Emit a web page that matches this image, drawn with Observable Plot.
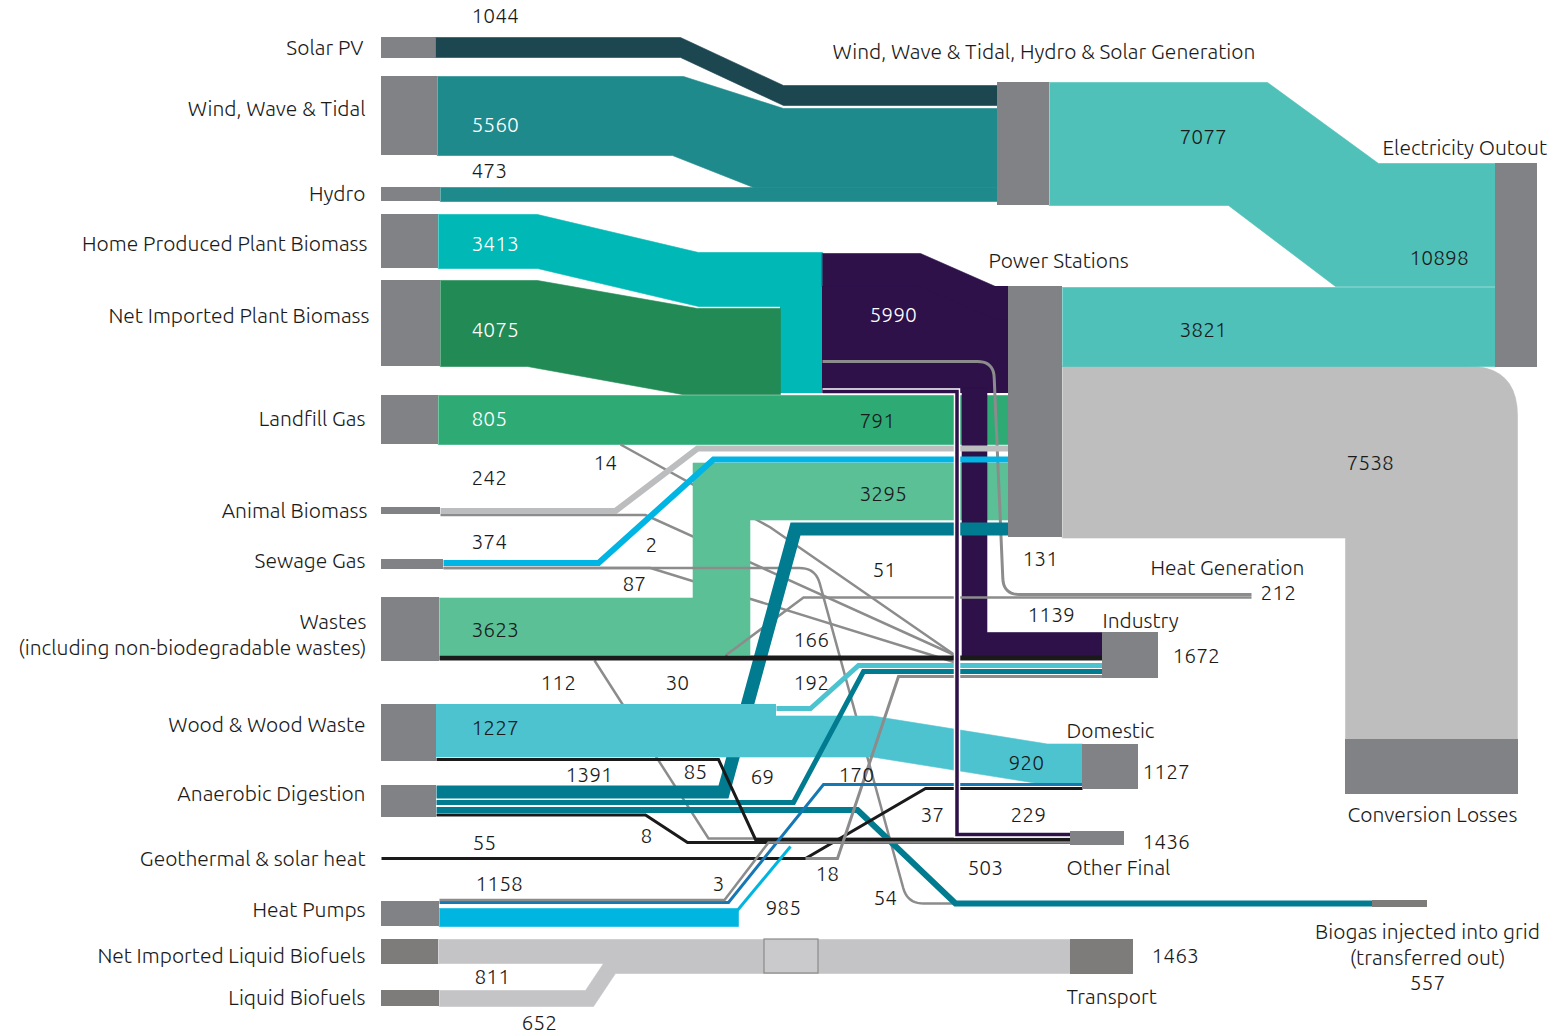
<!DOCTYPE html>
<html><head><meta charset="utf-8">
<script src="https://cdn.jsdelivr.net/npm/d3@7"></script>
<script src="https://cdn.jsdelivr.net/npm/@observablehq/plot@0.6"></script>
<style>
html,body{margin:0;padding:0;background:#fff;}
#chart svg{display:block;}
</style></head><body><div id="chart"></div>
<script>
// ---------------- DATA ----------------
const leftNodes = ["Solar PV","Wind, Wave & Tidal","Hydro","Home Produced Plant Biomass","Net Imported Plant Biomass","Landfill Gas","Animal Biomass","Sewage Gas","Wastes\n(including non-biodegradable wastes)","Wood & Wood Waste","Anaerobic Digestion","Geothermal & solar heat","Heat Pumps","Net Imported Liquid Biofuels","Liquid Biofuels"];
const leftTotals = [1044,5560,473,3413,4075,805,242,374,3623,1227,1391,55,1158,811,652];
const rightNodes = ["Wind, Wave & Tidal, Hydro & Solar Generation","Power Stations","Electricity Outout","Conversion Losses","Heat Generation","Industry","Domestic","Other Final","Transport","Biogas injected into grid\n(transferred out)"];
const rightTotals = [null,null,10898,null,212,1672,1127,1436,1463,557];
const flowIds    = ["solarGen","windGen","hydroGen","genElec","psElec","psLoss","homeBio","impBio","bioPS","bioInd","bioOther","bioHeat","landPS","landOther","animalPS","animalInd","sewagePS","sewageInd","sewageBiogas","wastesPS","wastesInd","wastesOther","wastesHeat","woodDom","woodInd","woodOther","adPS","adInd","adBiogas","adOther","geoDom","geoInd","hpDom","hpOther","hp3","liqImp","liq"];
const flowValues = [1044,5560,473,7077,3821,7538,3413,4075,5990,1139,229,131,791,14,170,72,231,87,54,3295,166,112,51,920,192,85,811,69,503,8,37,18,170,985,3,811,652];
const flowLabelled = ["genElec","psElec","psLoss","bioPS","bioInd","bioOther","bioHeat","landPS","landOther","sewageInd","sewageBiogas","wastesPS","wastesInd","wastesOther","wastesHeat","woodDom","woodInd","woodOther","adInd","adBiogas","adOther","geoDom","geoInd","hpDom","hpOther","hp3"];
const extraValues = [2, 30];

// ---------------- LAYOUT (positions / styles) ----------------
const C = {node:"#818285", nodeDark:"#7d7c7a", gray:"#8c8c8c", black:"#1a1a1a", purple:"#2e1149", ad:"#007b8f", wood:"#4dc3d0"};
const flowLayout = {
  psLoss:   {kind:"band", pts:[[1062,451.5],[1431,451.5],[1431,739]], w:172, color:"#bdbebd", round:50},
  genElec:  {kind:"band", pts:[[1049,143.5],[1247.5,143.5],[1356.5,224.5],[1495,224.5]], w:123, color:"#50c1b9", skew:[39,43]},
  psElec:   {kind:"band", pts:[[1062,326.5],[1495,326.5]], w:79, color:"#50c1b9"},
  solarGen: {kind:"band", pts:[[435,47],[680,47],[783,95],[997,95]], w:20, color:"#1c4650"},
  windGen:  {kind:"band", pts:[[437,115.5],[677.5,115.5],[768,147.5],[997,147.5]], w:79, color:"#1f8a8c", skew:[11,30]},
  hydroGen: {kind:"band", pts:[[440,194],[997,194]], w:14, color:"#1f8a8c"},
  homeBio:  {kind:"band", pts:[[438,241],[537,241],[698,279],[822,279]], w:54, color:"#00b8b5", rect:[780,822,279,393]},
  impBio:   {kind:"band", pts:[[440,323],[532,323],[689.5,351],[780,351]], w:86, color:"#228a55", skew:[10,15]},
  bioPS:    {kind:"band", pts:[[822,269.5],[920,269.5],[995,302.5],[1008,302.5]], w:33, color:C.purple, rect:[822,1008,286,393]},
  landPS:   {kind:"band", pts:[[438,419.5],[1008,419.5]], w:49, color:"#2eaa75"},
  wastesPS: {kind:"band", pts:[[439,626],[721,626],[721,491],[1008,491]], w:57, color:"#5bc096"},
  bioInd:   {kind:"band", pts:[[974,388],[974,644.5],[1102,644.5]], w:25, color:C.purple},
  bioHeat:  {kind:"line", pts:[[822,361],[993,361],[1003,594],[1251,594]], w:3, color:C.gray, round:16},
  landOther:{kind:"line", pts:[[620,444],[770,527],[955,655]], w:2.5, color:C.gray},
  animalInd:{kind:"line", pts:[[440,514.5],[645,514.5],[955,655]], w:2.5, color:C.gray},
  sewageInd:{kind:"line", pts:[[443,567.5],[650,567.5],[955,662]], w:2.5, color:C.gray},
  sewageBiogas:{kind:"line", pts:[[443,567.5],[815,567.5],[907,903],[955,903]], w:2.5, color:C.gray, round:16},
  wastesHeat:{kind:"line", pts:[[725,655],[803,597],[1251,597]], w:2.5, color:C.gray},
  wastesOther:{kind:"line", pts:[[594,660],[708,838],[1070,838]], w:2.5, color:C.gray},
  animalPS: {kind:"line", pts:[[440,510.5],[615,510.5],[697,448],[1008,448]], w:6, color:"#bcbdbf"},
  sewagePS: {kind:"line", pts:[[443,562.5],[598,562.5],[713,459],[1008,459]], w:6, color:"#00b4e3"},
  adPS:     {kind:"line", pts:[[436,791.5],[723,791.5],[795,528.5],[1008,528.5]], w:13, color:C.ad},
  wastesInd:{kind:"line", pts:[[439,657.5],[1102,657.5]], w:5, color:C.black},
  woodDom:  {kind:"band", pts:[[436,736],[872,736],[1047,764],[1082,764]], w:41, color:C.wood, rect:[436,776,704,757]},
  woodInd:  {kind:"line", pts:[[776,708],[810,708],[858,665],[1102,665]], w:5, color:C.wood},
  adInd:    {kind:"line", pts:[[436,802],[793,802],[863,671],[1102,671]], w:5, color:C.ad},
  adBiogas: {kind:"line", pts:[[436,809.5],[857,809.5],[955,903],[1372,903]], w:6, color:C.ad},
  adOther:  {kind:"line", pts:[[436,814.5],[645,814.5],[687,842],[1070,842]], w:3, color:C.black},
  woodOther:{kind:"line", pts:[[436,759],[718,759],[755,839],[1070,839]], w:3, color:C.black},
  geoDom:   {kind:"line", pts:[[381,858],[805,858],[925,788],[1082,788]], w:3, color:C.black},
  geoInd:   {kind:"line", pts:[[805,858],[837,858],[898,676],[1102,676]], w:3, color:C.gray},
  hpDom:    {kind:"line", pts:[[439,902],[728,902],[823,784],[1082,784]], w:3, color:"#1677b5"},
  hp3:      {kind:"line", pts:[[439,899.5],[724,899.5],[768,842],[1070,842]], w:2.5, color:C.gray},
  hpOther:  {kind:"band", pts:[[439,917],[738,917]], w:18, color:"#00b6e1", tail:[[736,911],[790,846]]},
  liqImp:   {kind:"band", pts:[[438,951],[1070,951]], w:24, color:"#c4c3c6"},
  liq:      {kind:"band", pts:[[439,998],[589,998],[611,965],[1070,965]], w:16, color:"#c4c3c6", skew:[-8,-8]},
  bioOther: {kind:"line", pts:[[822,391],[956.5,391],[956.5,834],[1070,834]], w:3.5, color:C.purple, halo:true}
};
const drawOrder = ["psLoss","genElec","psElec","solarGen","windGen","hydroGen","homeBio","impBio","bioPS","landPS","landOther","animalInd","sewageInd","wastesPS","bioInd","bioHeat","sewageBiogas","wastesHeat","wastesOther","animalPS","sewagePS","adPS","wastesInd","woodDom","woodInd","adInd","adBiogas","adOther","woodOther","geoDom","geoInd","hpDom","hp3","hpOther","liqImp","liq","bioOther"];
const leftNodeBox = [[381,435,37,58],[381,437,76,155],[381,440,187,201],[381,438,214,268],[381,440,280,366],[381,438,395,444],[381,440,507,514],[381,443,559,569],[381,439,597,661],[381,436,704,761],[381,436,785,817],null,[381,439,901,926],[381,438,939,964],[381,439,990,1006]];
const leftNodeDark = [13,14];
const rightNodeBox = [[997,1049,82,205],[1008,1062,286,537],[1495,1537,163,367],[1345,1518,739,794],null,[1102,1158,632,678],[1082,1138,744,789],[1070,1124,831,845],[1070,1133,939,974],[1372,1427,900,907]];
const rightNodeDark = [8,9];
const leftLabelPos = [[363,48],[365,109],[365,194],[367,244],[369,316],[365,419],[367,511],[365,561],[366,635],[365,725],[365,794],[365,859],[365,910],[365,956],[365,998]];
const leftTotalPos = [[471,16],[471,125],[471,171],[471,244],[471,330],[471,419],[471,478],[471,542],[471,630],[471,728],[565,775],[472,843],[475,884],[474,977],[521,1023]];
const leftTotalWhite = [1,3,4,5];
const rightLabelPos = [[832,52,"start"],[988,261,"start"],[1382,148,"start"],[1347,815,"start"],[1150,568,"start"],[1102,621,"start"],[1066,731,"start"],[1066,868,"start"],[1066,997,"start"],[1427,945,"middle"]];
const rightTotalPos = [null,null,[1409,258],null,[1260,593],[1172,656],[1142,772],[1142,842],[1151,956],[1427,983,"middle"]];
const flowLabelPos = {genElec:[1179,137],psElec:[1179,330],psLoss:[1346,463],bioPS:[869,315,"#fff"],bioInd:[1027,615],bioOther:[1010,815],bioHeat:[1022,559],landPS:[859,421],landOther:[593,463],sewageInd:[622,584],sewageBiogas:[873,898],wastesPS:[859,494],wastesInd:[793,640],wastesOther:[540,683],wastesHeat:[872,570],woodDom:[1008,763],woodInd:[793,683],woodOther:[683,772],adInd:[750,777],adBiogas:[967,868],adOther:[640,836],geoDom:[920,815],geoInd:[815,874],hpDom:[838,775],hpOther:[765,908],hp3:[712,884]};
const extraLabelPos = [[645,545],[665,683]];

// ---------------- GEOMETRY HELPERS ----------------
function roundCorners(P, r) {
  if (!r) return P;
  const out = [P[0]];
  for (let i = 1; i < P.length - 1; i++) {
    const a = P[i-1], c = P[i], b = P[i+1];
    const l1 = Math.hypot(c[0]-a[0], c[1]-a[1]), l2 = Math.hypot(b[0]-c[0], b[1]-c[1]);
    const u = [(c[0]-a[0])/l1, (c[1]-a[1])/l1], v = [(b[0]-c[0])/l2, (b[1]-c[1])/l2];
    if (Math.abs(u[0]*v[1]-u[1]*v[0]) < 1e-3) { out.push(c); continue; }
    const rr = Math.min(r, l1/2, l2/2);
    const s = [c[0]-u[0]*rr, c[1]-u[1]*rr], e = [c[0]+v[0]*rr, c[1]+v[1]*rr];
    for (let k = 0; k <= 10; k++) { const t = k/10;
      out.push([(1-t)*(1-t)*s[0]+2*(1-t)*t*c[0]+t*t*e[0], (1-t)*(1-t)*s[1]+2*(1-t)*t*c[1]+t*t*e[1]]); }
  }
  out.push(P[P.length-1]);
  return out;
}
function bandPolygon(pts, w, round, skew) {
  const h = w/2, n = pts.length, segs = [];
  for (let i = 0; i < n-1; i++) {
    const dx = pts[i+1][0]-pts[i][0], dy = pts[i+1][1]-pts[i][1];
    const off = Math.abs(dx) < 1e-6 ? [Math.sign(dy)*h, 0] : [0, -Math.sign(dx)*h];
    segs.push({p: pts[i], d: [dx, dy], off});
  }
  function side(s) {
    const L = i => ({p: [segs[i].p[0]+s*segs[i].off[0], segs[i].p[1]+s*segs[i].off[1]], d: segs[i].d});
    const out = [[pts[0][0]+s*segs[0].off[0], pts[0][1]+s*segs[0].off[1]]];
    for (let i = 1; i < n-1; i++) {
      const a = L(i-1), b = L(i);
      const cr = a.d[0]*b.d[1]-a.d[1]*b.d[0];
      let q;
      if (Math.abs(cr) < 1e-9) q = [pts[i][0]+s*segs[i].off[0], pts[i][1]+s*segs[i].off[1]];
      else { const t = ((b.p[0]-a.p[0])*b.d[1]-(b.p[1]-a.p[1])*b.d[0])/cr; q = [a.p[0]+t*a.d[0], a.p[1]+t*a.d[1]]; }
      if (skew) q[0] += s*skew[i-1]/2;
      out.push(q);
    }
    out.push([pts[n-1][0]+s*segs[n-2].off[0], pts[n-1][1]+s*segs[n-2].off[1]]);
    return out;
  }
  const A = roundCorners(side(1), round||0), B = side(-1);
  return A.concat(B.reverse());
}

// ---------------- MARKS ----------------
const FONT = "Ubuntu, 'Open Sans', 'Noto Sans', sans-serif";
const marks = [];
const px = d => d[0], py = d => d[1];
for (const id of drawOrder) {
  const L = flowLayout[id];
  if (L.rect) marks.push(Plot.rect([L.rect], {x1: d=>d[0], x2: d=>d[1], y1: d=>d[2], y2: d=>d[3], fill: L.color}));
  if (L.kind === "band") {
    marks.push(Plot.line(bandPolygon(L.pts, L.w, L.round, L.skew), {x: px, y: py, curve: "linear-closed", fill: L.color, stroke: L.color, strokeWidth: 0.6}));
    if (L.tail) marks.push(Plot.line(L.tail, {x: px, y: py, stroke: L.color, strokeWidth: 3, strokeLinecap: "butt"}));
  } else {
    const P = roundCorners(L.pts, L.round||0);
    if (L.halo) marks.push(Plot.line(P, {x: px, y: py, stroke: "#fff", strokeWidth: L.w+3, strokeLinejoin: "miter", strokeMiterlimit: 10, strokeLinecap: "butt"}));
    marks.push(Plot.line(P, {x: px, y: py, stroke: L.color, strokeWidth: L.w, strokeLinejoin: "miter", strokeMiterlimit: 10, strokeLinecap: "butt"}));
  }
}
marks.push(Plot.rect([[764,818,939,973]], {x1: d=>d[0], x2: d=>d[1], y1: d=>d[2], y2: d=>d[3], fill: "#cacacc", stroke: "#8a8a8a", strokeWidth: 1.2}));
const nodeRects = [];
leftNodeBox.forEach((b, i) => { if (b) nodeRects.push({b, c: leftNodeDark.includes(i) ? C.nodeDark : C.node}); });
rightNodeBox.forEach((b, i) => { if (b) nodeRects.push({b, c: rightNodeDark.includes(i) ? C.nodeDark : C.node}); });
marks.push(Plot.rect(nodeRects, {x1: d=>d.b[0], x2: d=>d.b[1], y1: d=>d.b[2], y2: d=>d.b[3], fill: d=>d.c}));

const txt = {fontSize: 21, fontWeight: 300, lineHeight: 1.23, dy: -1.5};
const leftLabels = leftNodes.map((t, i) => ({t, x: leftLabelPos[i][0], y: leftLabelPos[i][1]}));
marks.push(Plot.text(leftLabels, {x: "x", y: "y", text: "t", textAnchor: "end", fill: "#1a1a1a", ...txt}));
const leftVals = leftTotals.map((v, i) => ({t: String(v), x: leftTotalPos[i][0], y: leftTotalPos[i][1], c: leftTotalWhite.includes(i) ? "#ffffff" : "#1a1a1a"}));
marks.push(Plot.text(leftVals, {x: "x", y: "y", text: "t", textAnchor: "start", fill: "c", ...txt}));
const rStart = [], rMid = [];
rightNodes.forEach((t, i) => { const p = rightLabelPos[i]; (p[2] === "middle" ? rMid : rStart).push({t, x: p[0], y: p[1]}); });
rightTotals.forEach((v, i) => { const p = rightTotalPos[i]; if (v != null && p) (p[2] === "middle" ? rMid : rStart).push({t: String(v), x: p[0], y: p[1]}); });
marks.push(Plot.text(rStart, {x: "x", y: "y", text: "t", textAnchor: "start", fill: "#1a1a1a", ...txt}));
marks.push(Plot.text(rMid, {x: "x", y: "y", text: "t", textAnchor: "middle", fill: "#1a1a1a", ...txt, lineHeight: 1.2}));
const flowLabels = flowLabelled.map(id => { const p = flowLabelPos[id]; return {t: String(flowValues[flowIds.indexOf(id)]), x: p[0], y: p[1], c: p[2] || "#1a1a1a"}; })
  .concat(extraValues.map((v, i) => ({t: String(v), x: extraLabelPos[i][0], y: extraLabelPos[i][1], c: "#1a1a1a"})));
marks.push(Plot.text(flowLabels, {x: "x", y: "y", text: "t", textAnchor: "start", fill: "c", ...txt}));

const chart = Plot.plot({
  width: 1553, height: 1033, margin: 0,
  x: {type: "linear", domain: [0, 1553], range: [0, 1553], axis: null},
  y: {type: "linear", domain: [0, 1033], range: [0, 1033], axis: null},
  color: {type: "identity"},
  style: {fontFamily: FONT, background: "#ffffff", overflow: "visible"},
  marks
});
document.getElementById("chart").append(chart);
</script></body></html>
